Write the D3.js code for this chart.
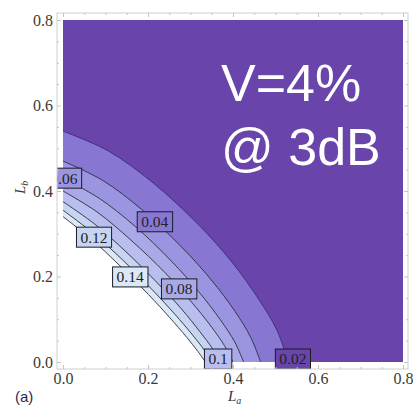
<!DOCTYPE html>
<html>
<head>
<meta charset="utf-8">
<script src="https://cdn.jsdelivr.net/npm/d3@7"></script>
<style>
  html, body { margin: 0; padding: 0; background: #ffffff; }
  svg { display: block; }
</style>
</head>
<body>
<div id="chart"></div>
<script>
// Contour levels and the colour of each band (index 0 = below the first level)
const levels = [0.02, 0.04, 0.06, 0.08, 0.1, 0.12, 0.14];
const levelLabels = ["0.02", "0.04", "0.06", "0.08", "0.1", "0.12", "0.14"];
const bandColors = ["#6844ab", "#8877d2", "#9b94e1", "#aaa9e8", "#b8beee", "#c8d5f1", "#dbe8f5", "#ffffff"];

const line002 = [[0, 0.54], [0.106, 0.494], [0.212, 0.419], [0.318, 0.322], [0.398, 0.233], [0.461, 0.146], [0.504, 0.073], [0.53, 0]];
const line004 = [[0, 0.47], [0.093, 0.425], [0.186, 0.356], [0.279, 0.269], [0.349, 0.192], [0.405, 0.118], [0.442, 0.057], [0.465, 0]];
const line006 = [[0, 0.43], [0.085, 0.383], [0.17, 0.317], [0.255, 0.236], [0.319, 0.165], [0.37, 0.099], [0.404, 0.047], [0.425, 0]];
const line008 = [[0, 0.40], [0.08, 0.351], [0.16, 0.285], [0.24, 0.209], [0.30, 0.143], [0.348, 0.084], [0.38, 0.038], [0.40, 0]];
const line010 = [[0, 0.375], [0.074, 0.323], [0.148, 0.258], [0.222, 0.185], [0.278, 0.125], [0.322, 0.071], [0.352, 0.031], [0.37, 0]];
const line012 = [[0, 0.355], [0.07, 0.302], [0.14, 0.239], [0.21, 0.169], [0.263, 0.112], [0.305, 0.063], [0.333, 0.027], [0.35, 0]];
const line014 = [[0, 0.34], [0.067, 0.287], [0.134, 0.225], [0.201, 0.158], [0.251, 0.104], [0.291, 0.058], [0.318, 0.024], [0.335, 0]];
const contourLines = [line002, line004, line006, line008, line010, line012, line014];

// Where each contour carries its value label (data coordinates)
const labelX = [0.541, 0.216, 0.002, 0.273, 0.365, 0.073, 0.158];
const labelY = [0.007, 0.328, 0.43, 0.171, 0.007, 0.292, 0.199];

// Axis ticks
const xTicks = [0, 0.2, 0.4, 0.6, 0.8];
const yTicks = [0, 0.2, 0.4, 0.6, 0.8];
const minorTicks = [0.05, 0.1, 0.15, 0.25, 0.3, 0.35, 0.45, 0.5, 0.55, 0.65, 0.7, 0.75];

const W = 413, H = 407;
const frame = { left: 57, top: 13, right: 408, bottom: 369 };

const svg = d3.select("#chart").append("svg")
  .attr("width", W).attr("height", H);

const x = d3.scaleLinear().domain([0, 0.8]).range([63, 403]);
const y = d3.scaleLinear().domain([0, 0.8]).range([362, 20]);

svg.append("clipPath").attr("id", "frameClip")
  .append("rect")
  .attr("x", frame.left).attr("y", frame.top)
  .attr("width", frame.right - frame.left).attr("height", frame.bottom - frame.top);

const plot = svg.append("g").attr("clip-path", "url(#frameClip)");

// Outermost band fills the whole plot range
plot.append("rect")
  .attr("x", x(0)).attr("y", y(0.8))
  .attr("width", x(0.8) - x(0)).attr("height", y(0) - y(0.8))
  .attr("fill", bandColors[0]);

const curveGen = d3.line()
  .x(d => x(d[0])).y(d => y(d[1]))
  .curve(d3.curveCatmullRom.alpha(0.5));

// Each contour encloses the corner at the origin; paint from outermost inward
contourLines.forEach((pts, i) => {
  const edge = curveGen(pts);
  const d = "M" + x(0) + "," + y(0) + "L" + edge.slice(1) + "Z";
  plot.append("path").attr("d", d).attr("fill", bandColors[i + 1]);
});

contourLines.forEach((pts, i) => {
  plot.append("path")
    .attr("d", curveGen(pts))
    .attr("fill", "none")
    .attr("stroke", i === 0 ? "#3b2a7a" : "#2b2b3a")
    .attr("stroke-width", 0.9);
});

// Contour value labels in boxed tags
const labelG = plot.append("g")
  .attr("font-family", "'Liberation Serif', 'Times New Roman', serif")
  .attr("font-size", 15.5)
  .attr("fill", "#222");

levels.forEach((lv, i) => {
  const g = labelG.append("g")
    .attr("transform", `translate(${x(labelX[i])},${y(labelY[i])})`);
  const rect = g.append("rect");
  const t = g.append("text")
    .attr("text-anchor", "middle")
    .attr("dy", "0.35em")
    .text(levelLabels[i]);
  const bb = t.node().getBBox();
  rect.attr("x", bb.x - 4).attr("y", -10)
    .attr("width", bb.width + 8).attr("height", 20)
    .attr("fill", bandColors[i])
    .attr("stroke", "#1a1a24").attr("stroke-width", 1);
});

// Frame
svg.append("rect")
  .attr("x", frame.left).attr("y", frame.top)
  .attr("width", frame.right - frame.left).attr("height", frame.bottom - frame.top)
  .attr("fill", "none").attr("stroke", "#cfcfcf").attr("stroke-width", 1);

// Tick marks on the frame (pointing inward)
function tickMarks(axisFn, scale, vals, len, tx, ty) {
  const g = svg.append("g").attr("transform", `translate(${tx},${ty})`)
    .call(axisFn(scale).tickValues(vals).tickSize(len).tickFormat(""));
  g.select(".domain").remove();
  g.selectAll("line").attr("stroke", "#c4c4c4");
}
tickMarks(d3.axisBottom, x, xTicks, -4, 0, frame.bottom);
tickMarks(d3.axisBottom, x, minorTicks, -2, 0, frame.bottom);
tickMarks(d3.axisTop, x, xTicks, -4, 0, frame.top);
tickMarks(d3.axisTop, x, minorTicks, -2, 0, frame.top);
tickMarks(d3.axisLeft, y, yTicks, -4, frame.left, 0);
tickMarks(d3.axisLeft, y, minorTicks, -2, frame.left, 0);
tickMarks(d3.axisRight, y, yTicks, -4, frame.right, 0);
tickMarks(d3.axisRight, y, minorTicks, -2, frame.right, 0);

// Tick labels
const fmt = d3.format(".1f");
const xAxis = svg.append("g")
  .attr("transform", `translate(0,${frame.bottom})`)
  .call(d3.axisBottom(x).tickValues(xTicks).tickFormat(fmt).tickSize(0).tickPadding(4));
const yAxis = svg.append("g")
  .attr("transform", `translate(${frame.left},0)`)
  .call(d3.axisLeft(y).tickValues(yTicks).tickFormat(fmt).tickSize(0).tickPadding(4));
[xAxis, yAxis].forEach(a => {
  a.select(".domain").remove();
  a.selectAll("text")
    .attr("font-family", "'Liberation Serif', 'Times New Roman', serif")
    .attr("font-size", 16)
    .attr("fill", "#3a3a3a");
});

// Axis titles
const xTitle = svg.append("text")
  .attr("x", 228).attr("y", 401)
  .attr("font-family", "'Liberation Serif', 'Times New Roman', serif")
  .attr("font-style", "italic").attr("font-size", 15).attr("fill", "#333");
xTitle.append("tspan").text("L");
xTitle.append("tspan").attr("font-size", 10).attr("dy", 3).text("a");

const yTitle = svg.append("text")
  .attr("transform", "translate(25,194) rotate(-90)")
  .attr("font-family", "'Liberation Serif', 'Times New Roman', serif")
  .attr("font-style", "italic").attr("font-size", 15).attr("fill", "#333");
yTitle.append("tspan").text("L");
yTitle.append("tspan").attr("font-size", 10).attr("dy", 3).text("b");

// Panel tag
svg.append("text")
  .attr("x", 15).attr("y", 402)
  .attr("font-family", "'Liberation Sans', Arial, sans-serif")
  .attr("font-size", 15).attr("fill", "#1f2d4d")
  .text("(a)");

// Annotation
const note = svg.append("g")
  .attr("font-family", "'Liberation Sans', Arial, sans-serif")
  .attr("font-size", 52).attr("fill", "#ffffff");
note.append("text").attr("x", 221).attr("y", 101).text("V=4%");
note.append("text").attr("x", 221).attr("y", 165).text("@ 3dB");
</script>
</body>
</html>
